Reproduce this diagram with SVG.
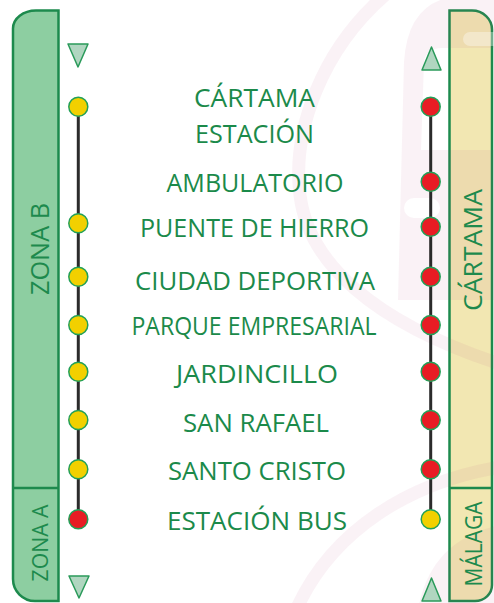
<svg xmlns="http://www.w3.org/2000/svg" width="494" height="603" viewBox="0 0 494 603">
<defs>
<style>
.bar{stroke:#1d8a4d;stroke-width:2.5}
.div{stroke:#1d8a4d;stroke-width:2.5;fill:none}
.tri{fill:#b0d6c0;stroke:#2a9a5a;stroke-width:1.5;stroke-linejoin:round}
.wm{fill:#b4487a;fill-opacity:0.07}
.wml{fill:none;stroke:#b4487a;stroke-opacity:0.07;stroke-width:13}
.line{stroke:#2b2b2b;stroke-width:3;fill:none}
.y{fill:#f2d000;stroke:#22a058;stroke-width:1.5}
.r{fill:#e81c24;stroke:#22a058;stroke-width:1.5}
.lbl{font-family:"Open Sans","Noto Sans",sans-serif;font-size:25px;fill:#1b8a4a;text-anchor:middle}
.vt{font-family:"Open Sans","Noto Sans",sans-serif;fill:#1d8a4d;text-anchor:middle}
</style>
</defs>
<rect width="494" height="603" fill="#ffffff"/>
<g id="bar-left">
<path class="bar" fill="#8dcea1" d="M58.5,10.5 L36,10.5 A23 18 0 0 0 13,28.5 L13,579 A22 22 0 0 0 35,601 L58.5,601 Z"/>
<line class="div" x1="13" y1="488" x2="58.5" y2="488"/>
</g>
<g id="bar-right">
<path class="bar" fill="#f2e7b2" d="M449.5,10.5 L472,10.5 A20 19 0 0 1 492,29.5 L492,585 A17 16 0 0 1 475,601 L449.5,601 Z"/>
<line class="div" x1="449.5" y1="488" x2="492" y2="488"/>
</g>
<g id="watermark">
<path class="wml" d="M385,-5 C322,50 292,130 300,195 C308,262 372,322 500,364"/>
<path class="wml" d="M296,610 C332,530 410,482 500,467"/>
<path class="wm" fill-rule="evenodd" d="M398,300 L404,62 Q408,-2 462,-4 L500,-4 L500,300 Z M421,150 L424,62 Q426,48 442,48 L500,48 L500,150 Z M414,198 L430,198 A9 9 0 0 1 430,218 L414,218 A9 9 0 0 1 414,198 Z"/>
<path class="wm" d="M418,610 Q430,540 500,525 L500,610 Z"/>
<rect x="463" y="32" width="40" height="14" rx="7" fill="#ffffff" fill-opacity="0.35"/>
</g>
<g id="zone-labels">
<text class="vt" font-size="25" textLength="92" lengthAdjust="spacingAndGlyphs" transform="translate(48.5,249) rotate(-90)">ZONA B</text>
<text class="vt" font-size="22" textLength="77" lengthAdjust="spacingAndGlyphs" transform="translate(47.5,543) rotate(-90)">ZONA A</text>
<text class="vt" font-size="26" textLength="122" lengthAdjust="spacingAndGlyphs" transform="translate(481.5,250) rotate(-90)">CÁRTAMA</text>
<text class="vt" font-size="24" textLength="85" lengthAdjust="spacingAndGlyphs" transform="translate(481.5,544) rotate(-90)">MÁLAGA</text>
</g>
<g id="arrows">
<polygon class="tri" points="68,44 88,44 78,67"/>
<polygon class="tri" points="69,576 89,576 79,598"/>
<polygon class="tri" points="431.5,47 422,70 441,70"/>
<polygon class="tri" points="431.5,578 422,601 441,601"/>
</g>
<g id="connectors">
<line class="line" x1="78.3" y1="106.7" x2="78.3" y2="519.3"/>
<line class="line" x1="430.7" y1="106.7" x2="430.7" y2="519.3"/>
</g>
<g id="stops-left">
<circle class="y" cx="78.3" cy="106.7" r="9.5"/>
<circle class="y" cx="78.3" cy="223.3" r="9.5"/>
<circle class="y" cx="78.3" cy="276.7" r="9.5"/>
<circle class="y" cx="78.3" cy="325" r="9.5"/>
<circle class="y" cx="78.3" cy="371.7" r="9.5"/>
<circle class="y" cx="78.3" cy="420" r="9.5"/>
<circle class="y" cx="78.3" cy="469.3" r="9.5"/>
<circle class="r" cx="78.3" cy="519.3" r="9.5"/>
</g>
<g id="stops-right">
<circle class="r" cx="430.7" cy="106.7" r="9.5"/>
<circle class="r" cx="430.7" cy="181.7" r="9.5"/>
<circle class="r" cx="430.7" cy="226.7" r="9.5"/>
<circle class="r" cx="430.7" cy="276.7" r="9.5"/>
<circle class="r" cx="430.7" cy="325" r="9.5"/>
<circle class="r" cx="430.7" cy="371.7" r="9.5"/>
<circle class="r" cx="430.7" cy="420" r="9.5"/>
<circle class="r" cx="430.7" cy="469.3" r="9.5"/>
<circle class="y" cx="430.7" cy="519.3" r="9.5"/>
</g>
<g id="station-labels">
<text class="lbl" x="254.5" y="106.7" textLength="121" lengthAdjust="spacingAndGlyphs">CÁRTAMA</text>
<text class="lbl" x="254.5" y="143.3" textLength="119" lengthAdjust="spacingAndGlyphs">ESTACIÓN</text>
<text class="lbl" x="255" y="191.7" textLength="177" lengthAdjust="spacingAndGlyphs">AMBULATORIO</text>
<text class="lbl" x="254.5" y="236.7" textLength="229" lengthAdjust="spacingAndGlyphs">PUENTE DE HIERRO</text>
<text class="lbl" x="255" y="290" textLength="240" lengthAdjust="spacingAndGlyphs">CIUDAD DEPORTIVA</text>
<text class="lbl" x="254" y="335" font-size="24" textLength="245" lengthAdjust="spacingAndGlyphs">PARQUE EMPRESARIAL</text>
<text class="lbl" x="257" y="383" textLength="162" lengthAdjust="spacingAndGlyphs">JARDINCILLO</text>
<text class="lbl" x="256" y="432" textLength="146" lengthAdjust="spacingAndGlyphs">SAN RAFAEL</text>
<text class="lbl" x="257" y="480" textLength="178" lengthAdjust="spacingAndGlyphs">SANTO CRISTO</text>
<text class="lbl" x="257" y="530" textLength="180" lengthAdjust="spacingAndGlyphs">ESTACIÓN BUS</text>
</g>
</svg>
